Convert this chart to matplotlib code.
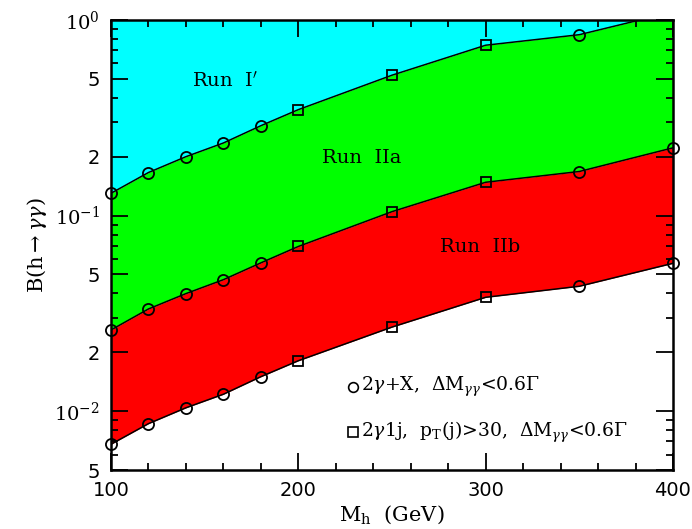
import numpy as np
import matplotlib
matplotlib.use("Agg")
import matplotlib.pyplot as plt
from matplotlib.ticker import FixedLocator, FixedFormatter, NullFormatter

plt.rcParams['mathtext.fontset'] = 'dejavuserif'

# Higgs mass (GeV)
mh = [100, 120, 140, 160, 180, 200, 250, 300, 350, 400]
# B(h->gamma gamma) reach for each run
run1 = [0.130, 0.166, 0.200, 0.235, 0.288, 0.348, 0.522, 0.743, 0.841, 1.10]
run2a = [0.0260, 0.0333, 0.0399, 0.0470, 0.0573, 0.0695, 0.1047, 0.148, 0.168, 0.222]
run2b = [0.00677, 0.00863, 0.0104, 0.0122, 0.0150, 0.0181, 0.0269, 0.0382, 0.0435, 0.0570]
# which points come from which analysis
is_jet = [False, False, False, False, False, True, True, True, False, False]

ytick_vals = [5e-3, 1e-2, 2e-2, 5e-2, 1e-1, 2e-1, 5e-1, 1.0]
ytick_labels = ['5', r'$10^{-2}$', '2', '5', r'$10^{-1}$', '2', '5', r'$10^{0}$']

fig = plt.figure(figsize=(6.92, 5.29), dpi=100)
ax = fig.add_axes([0.1604, 0.1115, 0.8121, 0.8507])

x = np.array(mh)
ax.fill_between(x, run1, 2.0, color='#00ffff', lw=0)
ax.fill_between(x, run2a, run1, color='#00ff00', lw=0)
ax.fill_between(x, run2b, run2a, color='#ff0000', lw=0)

jet = np.array(is_jet)
for y in [run1, run2a, run2b]:
    y = np.array(y)
    ax.plot(x, y, color='black', lw=1.1, zorder=3)
    inside = y <= 1.0
    sel = ~jet & inside
    ax.plot(x[sel], y[sel], 'o', mfc='none', mec='black', ms=8, mew=1.3, zorder=4, clip_on=False)
    sel = jet & inside
    ax.plot(x[sel], y[sel], 's', mfc='none', mec='black', ms=7.5, mew=1.3, zorder=4, clip_on=False)

ax.set_yscale('log')
ax.set_xlim(100, 400)
ax.set_ylim(5e-3, 1.0)

ax.xaxis.set_major_locator(FixedLocator([100, 200, 300, 400]))
ax.xaxis.set_minor_locator(FixedLocator(np.arange(100, 401, 20)))
ax.yaxis.set_major_locator(FixedLocator(ytick_vals))
ax.yaxis.set_major_formatter(FixedFormatter(ytick_labels))
minors = []
for d in [1e-3, 1e-2, 1e-1]:
    for m in [3, 4, 6, 7, 8, 9]:
        minors.append(m * d)
ax.yaxis.set_minor_locator(FixedLocator(minors))
ax.yaxis.set_minor_formatter(NullFormatter())

ax.tick_params(which='both', direction='in', top=True, right=True, width=1.3)
ax.tick_params(which='major', length=12, labelsize=14, pad=8)
ax.tick_params(which='minor', length=5)
for s in ax.spines.values():
    s.set_linewidth(1.8)

ax.set_xlabel(r'$\mathrm{M_h}$  (GeV)', fontsize=15, family='DejaVu Serif', labelpad=2)
ax.set_ylabel(r'B(h$\rightarrow\gamma\gamma$)', fontsize=15, family='DejaVu Serif', labelpad=4)

ax.text(161, 0.49, r"Run  I$'$", fontsize=14, family='DejaVu Serif', ha='center', va='center')
ax.text(234, 0.197, 'Run  IIa', fontsize=14, family='DejaVu Serif', ha='center', va='center')
ax.text(297, 0.069, 'Run  IIb', fontsize=14, family='DejaVu Serif', ha='center', va='center')

ax.plot([0.43], [0.184], 'o', mfc='none', mec='black', ms=7, mew=1.2, transform=ax.transAxes)
ax.text(0.445, 0.184, r'2$\gamma$+X,  $\Delta\mathrm{M}_{\gamma\gamma}$<0.6$\Gamma$', fontsize=13.5,
        family='DejaVu Serif', transform=ax.transAxes, va='center')
ax.plot([0.43], [0.084], 's', mfc='none', mec='black', ms=7, mew=1.2, transform=ax.transAxes)
ax.text(0.445, 0.084, r'2$\gamma$1j,  $\mathrm{p_T}$(j)>30,  $\Delta\mathrm{M}_{\gamma\gamma}$<0.6$\Gamma$', fontsize=13.5,
        family='DejaVu Serif', transform=ax.transAxes, va='center')

fig.savefig('out.png', dpi=100)
